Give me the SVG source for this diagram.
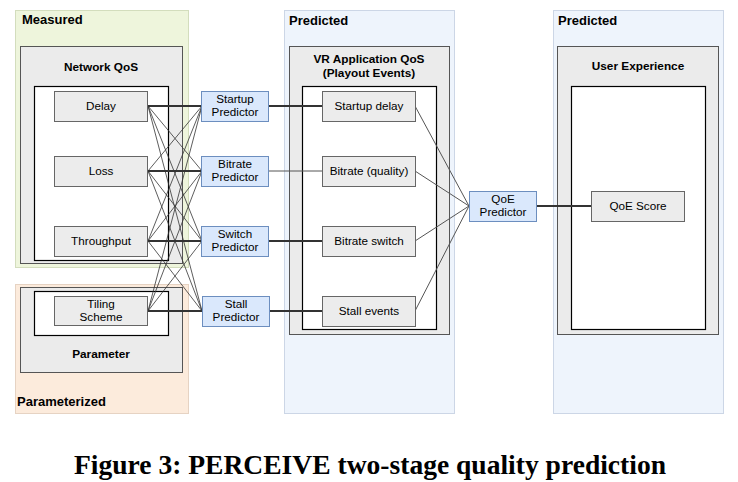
<svg xmlns="http://www.w3.org/2000/svg" width="738" height="482" viewBox="0 0 738 482">
<style>
text{font-family:"Liberation Sans",Arial,sans-serif;fill:#000}
.lbl{font-size:11.7px;text-anchor:middle}
.grp{font-size:13px;font-weight:bold}
.ttl{font-size:11.8px;font-weight:bold;text-anchor:middle}
.gray{fill:#ebebeb;stroke:#555;stroke-width:1}
.white{fill:#fff;stroke:#000;stroke-width:1.2}
.node{fill:#ececec;stroke:#666;stroke-width:1}
.pred{fill:#dae8fc;stroke:#6c8ebf;stroke-width:1}
.thin{stroke:#333;stroke-width:0.8;fill:none}
.thick{stroke:#333;stroke-width:2;fill:none}
.mid{stroke:#555;stroke-width:1;fill:none}
.cap{font-family:"Liberation Serif","Times New Roman",serif;font-size:27px;font-weight:bold}
</style>
<rect width="738" height="482" fill="#fff"/>
<g id="measured">
<rect x="15.5" y="10.5" width="173" height="257" fill="#eef5dc" stroke="#d3ddbd"/>
<text class="grp" x="22" y="24">Measured</text>
</g>
<g id="parameterized">
<rect x="15.5" y="284.5" width="173" height="129" fill="#fcebdc" stroke="#e6d3c3"/>
<text class="grp" x="17" y="406">Parameterized</text>
</g>
<g id="predicted1">
<rect x="284.5" y="10.5" width="170" height="403" fill="#eef4fc" stroke="#ccd6e6"/>
<text class="grp" x="289" y="25">Predicted</text>
</g>
<g id="predicted2">
<rect x="553.5" y="10.5" width="170" height="403" fill="#eef4fc" stroke="#ccd6e6"/>
<text class="grp" x="558" y="25">Predicted</text>
</g>
<g id="network-qos">
<rect class="gray" x="20.5" y="46.5" width="162" height="217"/>
<text class="ttl" x="101" y="71">Network QoS</text>
<rect class="white" x="34.5" y="86.5" width="134" height="174"/>
</g>
<g id="parameter">
<rect class="gray" x="20.5" y="287.5" width="162" height="85"/>
<rect class="white" x="34.5" y="291.5" width="134" height="44"/>
<text class="ttl" x="101" y="358">Parameter</text>
</g>
<g id="vr-app-qos">
<rect class="gray" x="289.5" y="46.5" width="160" height="288"/>
<text class="ttl" x="369" y="63">VR Application QoS</text>
<text class="ttl" x="369" y="77">(Playout Events)</text>
<rect class="white" x="302.5" y="86.5" width="134" height="243"/>
</g>
<g id="user-experience">
<rect class="gray" x="557.5" y="46.5" width="161" height="288"/>
<text class="ttl" x="638" y="70">User Experience</text>
<rect class="white" x="571.5" y="86.5" width="134" height="243"/>
</g>
<g id="connectors">
<path class="thick" d="M148 106H202M148 171H202M148 241H202M148 311H202"/>
<path class="thin" d="M148 106L202 171M148 106L202 241M148 106L202 311M148 171L202 106M148 171L202 241M148 171L202 311M148 241L202 106M148 241L202 171M148 241L202 311M148 311L202 106M148 311L202 171M148 311L202 241"/>
<path class="thick" d="M268 106H322M268 241H322M268 311H322M537 206H591"/>
<path class="mid" d="M268 171H322"/>
<path class="mid" d="M415 106L469 206M415 171L469 206M415 241L469 206M415 311L469 206"/>
</g>
<g id="delay"><rect class="node" x="54.5" y="91.5" width="93" height="30"/><text class="lbl" x="101" y="110">Delay</text></g>
<g id="loss"><rect class="node" x="54.5" y="156.5" width="93" height="30"/><text class="lbl" x="101" y="175">Loss</text></g>
<g id="throughput"><rect class="node" x="54.5" y="226.5" width="93" height="30"/><text class="lbl" x="101" y="245">Throughput</text></g>
<g id="tiling-scheme"><rect class="node" x="54.5" y="296.5" width="93" height="29"/><text class="lbl" x="101" y="308">Tiling</text><text class="lbl" x="101" y="321">Scheme</text></g>
<g id="startup-predictor"><rect class="pred" x="201.5" y="91.5" width="67" height="30"/><text class="lbl" x="235" y="103">Startup</text><text class="lbl" x="235" y="116">Predictor</text></g>
<g id="bitrate-predictor"><rect class="pred" x="201.5" y="156.5" width="67" height="30"/><text class="lbl" x="235" y="168">Bitrate</text><text class="lbl" x="235" y="181">Predictor</text></g>
<g id="switch-predictor"><rect class="pred" x="201.5" y="226.5" width="67" height="30"/><text class="lbl" x="235" y="238">Switch</text><text class="lbl" x="235" y="251">Predictor</text></g>
<g id="stall-predictor"><rect class="pred" x="202.5" y="296.5" width="67" height="30"/><text class="lbl" x="236" y="308">Stall</text><text class="lbl" x="236" y="321">Predictor</text></g>
<g id="startup-delay"><rect class="node" x="322.5" y="91.5" width="93" height="30"/><text class="lbl" x="369" y="110">Startup delay</text></g>
<g id="bitrate-quality"><rect class="node" x="322.5" y="156.5" width="93" height="30"/><text class="lbl" x="369" y="175">Bitrate (quality)</text></g>
<g id="bitrate-switch"><rect class="node" x="322.5" y="226.5" width="93" height="30"/><text class="lbl" x="369" y="245">Bitrate switch</text></g>
<g id="stall-events"><rect class="node" x="322.5" y="296.5" width="93" height="30"/><text class="lbl" x="369" y="315">Stall events</text></g>
<g id="qoe-predictor"><rect class="pred" x="469.5" y="191.5" width="67" height="30"/><text class="lbl" x="503" y="203">QoE</text><text class="lbl" x="503" y="216">Predictor</text></g>
<g id="qoe-score"><rect class="node" x="591.5" y="191.5" width="93" height="30"/><text class="lbl" x="638" y="210">QoE Score</text></g>
<text class="cap" x="74" y="474" textLength="592" lengthAdjust="spacingAndGlyphs">Figure 3: PERCEIVE two-stage quality prediction</text>
</svg>
